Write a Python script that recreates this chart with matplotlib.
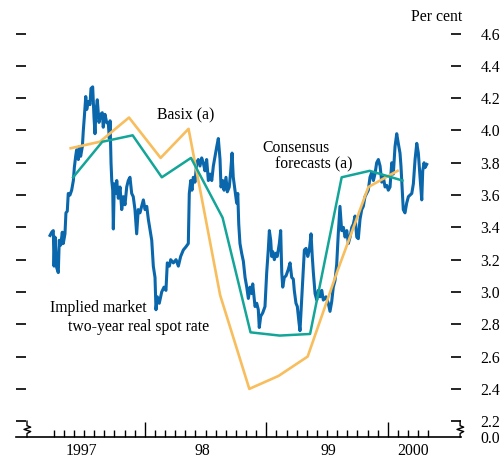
import matplotlib
matplotlib.use('Agg')
import matplotlib.pyplot as plt
import matplotlib.transforms as mtransforms

plt.rcParams['font.family'] = ['Liberation Serif', 'DejaVu Serif']
plt.rcParams['font.size'] = 11.3

# implied market two-year real spot rate (per cent)
spot_t = [1997.220, 1997.234, 1997.247, 1997.253, 1997.261, 1997.275, 1997.288, 1997.296, 1997.308, 1997.321,
          1997.329, 1997.343, 1997.351, 1997.362, 1997.370, 1997.384, 1997.398, 1997.412, 1997.420, 1997.431,
          1997.439, 1997.453, 1997.461, 1997.472, 1997.486, 1997.494, 1997.502, 1997.514, 1997.522, 1997.535,
          1997.549, 1997.557, 1997.571, 1997.582, 1997.590, 1997.598, 1997.609, 1997.623, 1997.637, 1997.650,
          1997.658, 1997.672, 1997.686, 1997.700, 1997.708, 1997.714, 1997.722, 1997.728, 1997.736, 1997.741,
          1997.749, 1997.760, 1997.769, 1997.782, 1997.796, 1997.810, 1997.823, 1997.837, 1997.851, 1997.864,
          1997.878, 1997.892, 1997.905, 1997.919, 1997.933, 1997.946, 1997.960, 1997.988, 1998.002, 1998.016,
          1998.029, 1998.057, 1998.070, 1998.084, 1998.092, 1998.103, 1998.119, 1998.139, 1998.158, 1998.174,
          1998.185, 1998.202, 1998.213, 1998.235, 1998.257, 1998.276, 1998.295, 1998.317, 1998.339, 1998.358,
          1998.366, 1998.378, 1998.388, 1998.399, 1998.413, 1998.427, 1998.440, 1998.454, 1998.468, 1998.481,
          1998.495, 1998.509, 1998.523, 1998.537, 1998.551, 1998.564, 1998.578, 1998.592, 1998.605, 1998.619,
          1998.627, 1998.641, 1998.652, 1998.668, 1998.679, 1998.695, 1998.707, 1998.718, 1998.728, 1998.742,
          1998.756, 1998.765, 1998.773, 1998.783, 1998.797, 1998.811, 1998.825, 1998.839, 1998.852, 1998.866,
          1998.880, 1998.888, 1998.899, 1998.907, 1998.921, 1998.934, 1998.942, 1998.954, 1998.970, 1998.989,
          1999.003, 1999.016, 1999.025, 1999.036, 1999.044, 1999.053, 1999.066, 1999.080, 1999.090, 1999.107,
          1999.118, 1999.127, 1999.135, 1999.148, 1999.162, 1999.181, 1999.195, 1999.209, 1999.222, 1999.230,
          1999.244, 1999.255, 1999.269, 1999.277, 1999.291, 1999.304, 1999.313, 1999.327, 1999.341, 1999.354,
          1999.368, 1999.378, 1999.387, 1999.401, 1999.415, 1999.428, 1999.442, 1999.456, 1999.469, 1999.491,
          1999.510, 1999.524, 1999.538, 1999.551, 1999.565, 1999.579, 1999.592, 1999.606, 1999.620, 1999.634,
          1999.648, 1999.662, 1999.675, 1999.689, 1999.703, 1999.716, 1999.730, 1999.744, 1999.757, 1999.771,
          1999.785, 1999.798, 1999.812, 1999.826, 1999.839, 1999.853, 1999.867, 1999.881, 1999.894, 1999.908,
          1999.922, 1999.936, 1999.950, 1999.963, 1999.977, 1999.991, 2000.004, 2000.018, 2000.032, 2000.045,
          2000.059, 2000.073, 2000.086, 2000.100, 2000.108, 2000.117, 2000.127, 2000.141, 2000.155, 2000.169,
          2000.183, 2000.197, 2000.210, 2000.224, 2000.238, 2000.251, 2000.265, 2000.279, 2000.287, 2000.298,
          2000.306, 2000.320]
spot_v = [3.35, 3.37, 3.38, 3.16, 3.34, 3.15, 3.12, 3.32, 3.29, 3.37,
          3.30, 3.36, 3.49, 3.50, 3.61, 3.60, 3.63, 3.69, 3.77, 3.84,
          3.88, 3.82, 3.90, 3.84, 3.90, 4.00, 4.08, 4.21, 4.13, 4.18,
          4.16, 4.26, 4.27, 4.08, 3.98, 4.12, 4.19, 4.05, 4.10, 4.11,
          4.02, 4.10, 4.05, 4.04, 3.95, 4.06, 3.80, 3.69, 3.63, 3.39,
          3.67, 3.61, 3.69, 3.58, 3.65, 3.51, 3.59, 3.54, 3.65, 3.69,
          3.71, 3.61, 3.59, 3.51, 3.36, 3.51, 3.49, 3.57, 3.51, 3.53,
          3.45, 3.32, 3.16, 3.09, 2.89, 2.97, 2.93, 3.00, 3.03, 3.01,
          3.18, 3.16, 3.20, 3.18, 3.20, 3.16, 3.22, 3.26, 3.28, 3.30,
          3.61, 3.69, 3.63, 3.71, 3.68, 3.80, 3.82, 3.78, 3.83, 3.80,
          3.75, 3.82, 3.69, 3.73, 3.69, 3.78, 3.84, 3.90, 3.95, 3.82,
          3.65, 3.69, 3.63, 3.71, 3.62, 3.65, 3.75, 3.86, 3.71, 3.63,
          3.55, 3.61, 3.42, 3.30, 3.24, 3.19, 3.09, 3.03, 2.96, 3.03,
          2.99, 3.05, 2.97, 2.91, 2.93, 2.89, 2.78, 2.85, 2.87, 2.91,
          3.12, 3.26, 3.38, 3.32, 3.22, 3.25, 3.20, 3.24, 3.22, 3.30,
          3.38, 3.12, 3.03, 3.09, 3.10, 3.14, 3.18, 3.09, 3.08, 3.01,
          2.93, 2.91, 2.81, 2.76, 2.95, 3.12, 3.26, 3.27, 3.22, 3.26,
          3.36, 3.22, 3.12, 2.99, 2.95, 3.01, 2.97, 3.01, 2.95, 2.97,
          2.93, 2.88, 2.94, 3.03, 3.07, 3.17, 3.36, 3.53, 3.38, 3.40,
          3.34, 3.38, 3.30, 3.34, 3.40, 3.42, 3.47, 3.34, 3.33, 3.45,
          3.51, 3.53, 3.59, 3.61, 3.63, 3.71, 3.74, 3.69, 3.73, 3.80,
          3.82, 3.78, 3.68, 3.71, 3.65, 3.66, 3.63, 3.65, 3.80, 3.73,
          3.90, 3.98, 3.92, 3.86, 3.78, 3.65, 3.51, 3.49, 3.55, 3.59,
          3.60, 3.61, 3.67, 3.82, 3.92, 3.86, 3.71, 3.57, 3.75, 3.80,
          3.77, 3.79]

# Basix survey (quarterly)
basix_t = [1997.39, 1997.63, 1997.87, 1998.13, 1998.36, 1998.62,
           1998.86, 1999.10, 1999.34, 1999.59, 1999.84, 2000.08]
basix_v = [3.89, 3.93, 4.08, 3.83, 4.01, 2.98,
           2.40, 2.48, 2.60, 3.14, 3.65, 3.75]

# Consensus forecasts (quarterly)
cons_t = [1997.41, 1997.65, 1997.90, 1998.14, 1998.38, 1998.64,
          1998.87, 1999.11, 1999.36, 1999.62, 1999.85, 2000.12]
cons_v = [3.71, 3.93, 3.97, 3.71, 3.83, 3.46,
          2.75, 2.73, 2.74, 3.71, 3.75, 3.69]

ytick_vals = [2.2, 2.4, 2.6, 2.8, 3.0, 3.2, 3.4, 3.6, 3.8, 4.0, 4.2, 4.4, 4.6]
year_labels = ['1997', '98', '99', '2000']
year_label_pos = [1997.48, 1998.47, 1999.51, 2000.21]

BLUE = '#0b67ab'
ORANGE = '#f8bd5c'
TEAL = '#13a598'

fig = plt.figure(figsize=(5.01, 4.63), dpi=100)
ax = fig.add_axes([16 / 501, 26 / 463, 445 / 501, 412 / 463])

ax.plot(spot_t, spot_v, color=BLUE, lw=2.2, zorder=3)
ax.plot(basix_t, basix_v, color=ORANGE, lw=1.9, zorder=4)
ax.plot(cons_t, cons_v, color=TEAL, lw=1.8, zorder=5)

ybase = 2.102
ax.set_ylim(ybase, 4.653)
ax.set_xlim(1996.94, 2000.602)

for s in ['left', 'right', 'top']:
    ax.spines[s].set_visible(False)
ax.spines['bottom'].set_linewidth(1.2)

# y ticks: dashes on both sides, labels on the right, with 0.0 at the base
ax.set_yticks([ybase] + ytick_vals)
ax.set_yticklabels(['0.0'] + ['%.1f' % v for v in ytick_vals])
ax.tick_params(axis='y', which='major', direction='in', length=7.5, width=1.2,
               left=True, right=True, labelleft=False, labelright=True, pad=14)
ax.yaxis.get_major_ticks()[0].tick1line.set_visible(False)
ax.yaxis.get_major_ticks()[0].tick2line.set_visible(False)

# x ticks: years (long) and months (short)
ax.set_xticks([1998, 1999, 2000])
ax.set_xticklabels([])
months = [1997 + m / 12 for m in range(3, 12)] + \
         [1998 + m / 12 for m in range(1, 12)] + \
         [1999 + m / 12 for m in range(1, 12)] + \
         [2000 + m / 12 for m in range(1, 5)]
ax.set_xticks(months, minor=True)
ax.tick_params(axis='x', which='major', direction='in', length=11, width=1.0)
ax.tick_params(axis='x', which='minor', direction='in', length=5, width=1.0)

for lab, pos in zip(year_labels, year_label_pos):
    ax.annotate(lab, (pos, 0), xycoords=('data', 'axes fraction'),
                xytext=(0, -4), textcoords='offset points',
                ha='center', va='top')

# axis break marks at both ends
tr = mtransforms.blended_transform_factory(ax.transAxes, ax.transData)
zz_y = [2.2, 2.172, 2.163, 2.149, 2.136, 2.124, ybase]
ax.plot([0.0247, 0.0247, 0.033, 0.018, 0.033, 0.0247, 0.0247], zz_y,
        transform=tr, color='black', lw=1.0, clip_on=False)
ax.plot([0.998, 0.998, 1.006, 0.991, 1.006, 0.998, 0.998], zz_y,
        transform=tr, color='black', lw=1.0, clip_on=False)

fig.text(462 / 501, 1 - 17 / 463, 'Per cent', ha='right', va='center')

ax.text(1998.339, 4.095, 'Basix (a)', ha='center', va='center')
ax.text(1998.965, 3.891, 'Consensus', ha='left', va='center')
ax.text(1999.071, 3.792, 'forecasts (a)', ha='left', va='center')
ax.text(1997.22, 2.900, 'Implied market', ha='left', va='center')
ax.text(1997.368, 2.783, 'two-year real spot rate', ha='left', va='center')

fig.savefig('out.png', dpi=100)
